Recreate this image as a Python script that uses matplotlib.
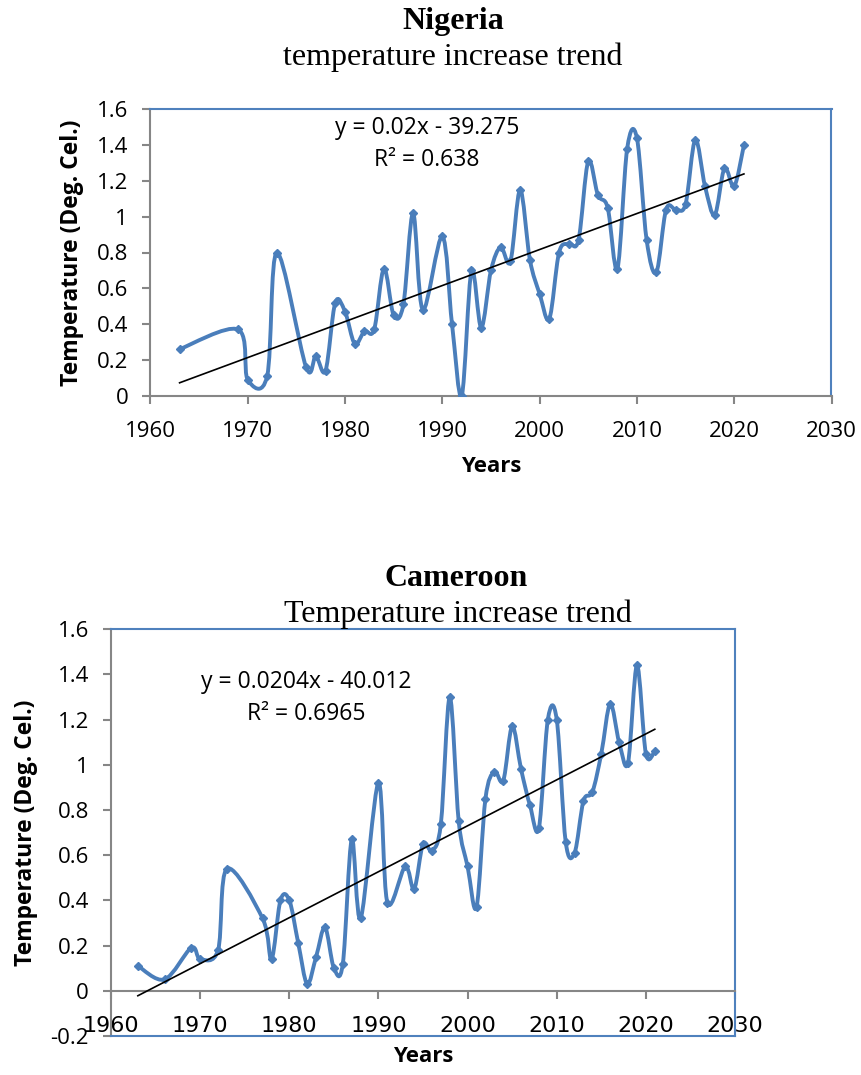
import numpy as np
import matplotlib
matplotlib.use("Agg")
import matplotlib.pyplot as plt
from matplotlib.path import Path
from matplotlib.patches import PathPatch

# Nigeria anomalies
ng_years = [1963, 1969, 1970, 1972, 1973, 1976, 1977, 1978, 1979, 1980,
            1981, 1982, 1983, 1984, 1985, 1986, 1987, 1988, 1990, 1991,
            1992, 1993, 1994, 1995, 1996, 1997, 1998, 1999, 2000, 2001,
            2002, 2003, 2004, 2005, 2006, 2007, 2008, 2009, 2010, 2011,
            2012, 2013, 2014, 2015, 2016, 2017, 2018, 2019, 2020, 2021]
ng_temp = [0.26, 0.37, 0.09, 0.11, 0.80, 0.16, 0.22, 0.14, 0.52, 0.47,
           0.29, 0.36, 0.37, 0.71, 0.45, 0.51, 1.02, 0.48, 0.89, 0.40,
           0.00, 0.70, 0.38, 0.70, 0.83, 0.75, 1.15, 0.76, 0.57, 0.43,
           0.80, 0.85, 0.87, 1.31, 1.12, 1.05, 0.71, 1.38, 1.44, 0.87,
           0.69, 1.04, 1.04, 1.07, 1.43, 1.17, 1.01, 1.27, 1.17, 1.40]

# Cameroon anomalies
cm_years = [1963, 1966, 1969, 1970, 1972, 1973, 1977, 1978, 1979, 1980,
            1981, 1982, 1983, 1984, 1985, 1986, 1987, 1988, 1990, 1991,
            1993, 1994, 1995, 1996, 1997, 1998, 1999, 2000, 2001, 2002,
            2003, 2004, 2005, 2006, 2007, 2008, 2009, 2010, 2011, 2012,
            2013, 2014, 2015, 2016, 2017, 2018, 2019, 2020, 2021]
cm_temp = [0.11, 0.05, 0.19, 0.14, 0.18, 0.54, 0.32, 0.14, 0.40, 0.40,
           0.21, 0.03, 0.15, 0.28, 0.10, 0.12, 0.67, 0.32, 0.92, 0.39,
           0.55, 0.45, 0.65, 0.62, 0.74, 1.30, 0.75, 0.55, 0.37, 0.85,
           0.97, 0.93, 1.17, 0.98, 0.82, 0.72, 1.20, 1.20, 0.66, 0.61,
           0.84, 0.88, 1.05, 1.27, 1.10, 1.01, 1.44, 1.05, 1.06]

x_ticks = [1960, 1970, 1980, 1990, 2000, 2010, 2020, 2030]
ng_yticks = [0, 0.2, 0.4, 0.6, 0.8, 1, 1.2, 1.4, 1.6]
cm_yticks = [-0.2, 0, 0.2, 0.4, 0.6, 0.8, 1, 1.2, 1.4, 1.6]

LINE = "#4A7EBB"
BORDER = "#4F81BD"
GREY = "#868686"
SANS = ["Open Sans", "DejaVu Sans"]
SERIF = ["Liberation Serif", "DejaVu Serif"]
FS = 16

W, H = 862, 1075
fig = plt.figure(figsize=(W / 100, H / 100), dpi=100)


def frac(x, y):
    return x / W, 1 - y / H


def box(l, t, r, b):
    return [l / W, 1 - b / H, (r - l) / W, (b - t) / H]


def smooth(x, y):
    # Excel-like smoothed line: cubic bezier through every point
    p = np.column_stack([x, y]).astype(float)
    n = len(p)
    verts = [p[0]]
    codes = [Path.MOVETO]
    for i in range(n - 1):
        a = p[max(i - 1, 0)]
        b = p[i]
        c = p[i + 1]
        d = p[min(i + 2, n - 1)]
        verts += [b + (c - a) / 6, c - (d - b) / 6, c]
        codes += [Path.CURVE4] * 3
    return Path(verts, codes)


def draw(ax, years, temps, yticks):
    ax.add_patch(PathPatch(smooth(years, temps), fill=False, edgecolor=LINE,
                           lw=2.8, capstyle="round", joinstyle="round", zorder=3))
    ax.plot(years, temps, ls="none", marker="D", ms=4.5, color=LINE, zorder=4)
    coef = np.polyfit(years, temps, 1)
    ends = np.array([years[0], years[-1]])
    ax.plot(ends, np.polyval(coef, ends), color="black", lw=1.2, zorder=5)

    ax.set_xlim(1960, 2030)
    ax.set_ylim(yticks[0], yticks[-1])
    ax.set_xticks(x_ticks)
    ax.set_xticklabels([str(v) for v in x_ticks])
    ax.set_yticks(yticks)
    ax.set_yticklabels([f"{v:g}" for v in yticks])
    for side in ["top", "right"]:
        ax.spines[side].set_color(BORDER)
        ax.spines[side].set_linewidth(1.5)
    for side in ["left", "bottom"]:
        ax.spines[side].set_color(GREY)
        ax.spines[side].set_linewidth(1.5)
    ax.tick_params(axis="both", direction="out", color=GREY, width=1.5,
                   length=6, labelsize=FS)
    ax.tick_params(axis="x", pad=12)
    ax.tick_params(axis="y", pad=10)
    for lab in ax.get_xticklabels() + ax.get_yticklabels():
        lab.set_family(SANS)


# Nigeria
ax1 = fig.add_axes(box(150.4, 109.3, 831.5, 395.7))
draw(ax1, ng_years, ng_temp, ng_yticks)
ax1.set_xlabel("Years", family=SANS, fontsize=FS, fontweight="bold", labelpad=10)
ax1.set_ylabel("Temperature (Deg. Cel.)", family=SANS, fontsize=16.5,
               fontweight="bold", labelpad=9)
fig.text(*frac(453, 22), "Nigeria", family=SERIF, fontsize=23, fontweight="bold",
         ha="center", va="center")
fig.text(*frac(453, 57), "temperature increase trend", family=SERIF, fontsize=23,
         ha="center", va="center")
fig.text(*frac(427, 128), "y = 0.02x - 39.275", family=SANS, fontsize=16.5,
         ha="center", va="center")
fig.text(*frac(427, 160), "R² = 0.638", family=SANS, fontsize=16.5,
         ha="center", va="center")

# Cameroon
ax2 = fig.add_axes(box(111.1, 629.3, 735, 1035.9))
draw(ax2, cm_years, cm_temp, cm_yticks)
ax2.spines["bottom"].set_position(("data", 0))
ax2.axhline(cm_yticks[0], color=BORDER, lw=1.5, clip_on=False, zorder=6)
ax2.set_xlabel("Years", family=SANS, fontsize=FS, fontweight="bold")
ax2.xaxis.set_label_coords(0.5, -0.025)
ax2.set_ylabel("Temperature (Deg. Cel.)", family=SANS, fontsize=16.5,
               fontweight="bold", labelpad=9)
fig.text(*frac(456, 578), "Cameroon", family=SERIF, fontsize=23, fontweight="bold",
         ha="center", va="center")
fig.text(*frac(458, 614), "Temperature increase trend", family=SERIF, fontsize=23,
         ha="center", va="center")
fig.text(*frac(306, 682), "y = 0.0204x - 40.012", family=SANS, fontsize=16.5,
         ha="center", va="center")
fig.text(*frac(306, 714), "R² = 0.6965", family=SANS, fontsize=16.5,
         ha="center", va="center")

fig.savefig("out.png", dpi=100)
